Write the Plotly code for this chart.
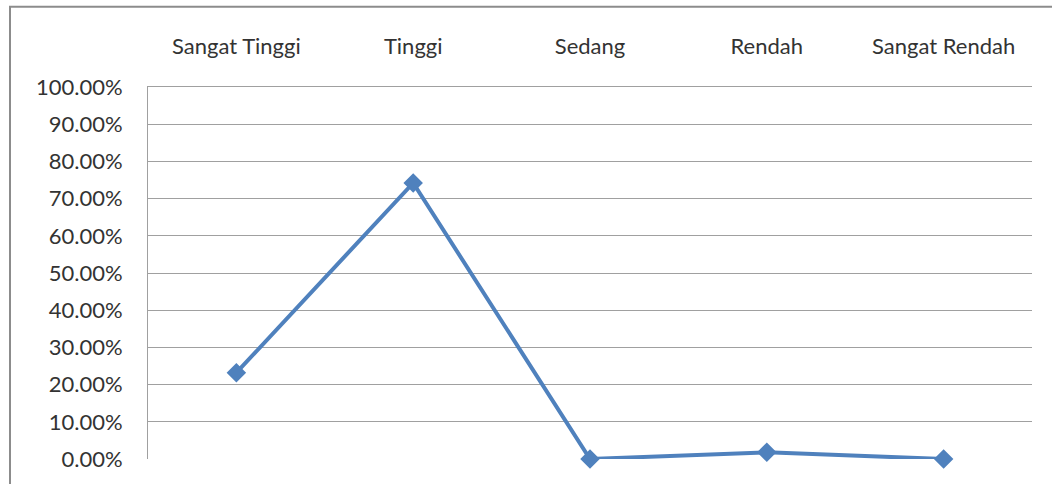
import plotly.graph_objects as go

categories = ["Sangat Tinggi", "Tinggi", "Sedang", "Rendah", "Sangat Rendah"]
values = [0.232, 0.742, 0.0, 0.018, 0.0]
y_ticks = [0.0, 0.1, 0.2, 0.3, 0.4, 0.5, 0.6, 0.7, 0.8, 0.9, 1.0]
grid_ticks = y_ticks[1:]

W, H = 1052, 484
L, R, T, B = 148, 20, 87, 21.5
plot_w = W - L - R
plot_h = H - T - B

font = dict(family="Lato, Liberation Sans, sans-serif", size=22, color="#333333")
line_color = "#4F81BD"
grid_color = "#A0A0A0"

fig = go.Figure()
fig.add_trace(go.Scatter(
    x=categories, y=values, mode="lines+markers",
    line=dict(color=line_color, width=4),
    marker=dict(symbol="diamond", size=15, color=line_color),
    cliponaxis=False,
    showlegend=False, hoverinfo="skip",
))
# invisible trace to give the grid axis a data link
fig.add_trace(go.Scatter(x=categories, y=values, yaxis="y2", mode="none",
                         showlegend=False, hoverinfo="skip"))

# outer chart border (left and top edges)
px_to_x = lambda px: (px - L) / plot_w
px_to_y = lambda py: (H - B - py) / plot_h
fig.add_shape(type="line", xref="paper", yref="paper",
              x0=px_to_x(10), x1=px_to_x(10), y0=px_to_y(H + 5), y1=px_to_y(6),
              line=dict(color="#8C8C8C", width=2))
fig.add_shape(type="line", xref="paper", yref="paper",
              x0=px_to_x(9), x1=px_to_x(W + 5), y0=px_to_y(6), y1=px_to_y(6),
              line=dict(color="#8C8C8C", width=2))

fig.update_layout(
    width=W, height=H,
    margin=dict(l=L, r=R, t=T, b=B, pad=0),
    paper_bgcolor="white", plot_bgcolor="white",
    font=font,
    xaxis=dict(
        side="top", type="category", range=[-0.5, 4.5],
        showgrid=False, zeroline=False,
        showline=True, linecolor=grid_color, linewidth=1, ticks="",
        ticklabelstandoff=23, tickfont=font,
    ),
    yaxis=dict(
        range=[0, 1], tickvals=y_ticks, tickformat=".2%",
        showgrid=False, zeroline=False,
        showline=True, linecolor=grid_color, linewidth=1,
        ticks="", ticklabelstandoff=20, tickfont=font,
    ),
    yaxis2=dict(
        range=[0, 1], overlaying="y", tickvals=grid_ticks,
        showgrid=True, gridcolor=grid_color, gridwidth=1,
        showticklabels=False, zeroline=False, showline=False, ticks="",
    ),
)

fig.write_html("out.html")
